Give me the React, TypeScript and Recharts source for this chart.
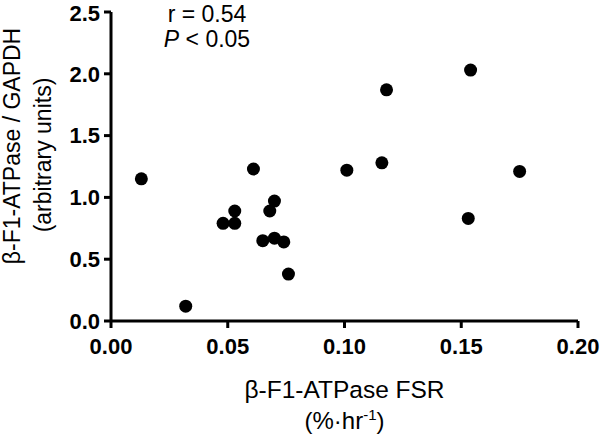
import React from 'react';
import { ScatterChart, Scatter, XAxis, YAxis } from 'recharts';

const fsrValues = [0.013, 0.032, 0.048, 0.053, 0.053, 0.061, 0.065, 0.068, 0.07, 0.07, 0.074, 0.076, 0.101, 0.116, 0.118, 0.153, 0.154, 0.175];
const ratioValues = [1.15, 0.12, 0.79, 0.79, 0.89, 1.23, 0.65, 0.89, 0.97, 0.67, 0.64, 0.38, 1.22, 1.28, 1.87, 0.83, 2.03, 1.21];
const xTicks = [0, 0.05, 0.1, 0.15, 0.2];
const yTicks = [0, 0.5, 1.0, 1.5, 2.0, 2.5];
const xTitle = 'β-F1-ATPase FSR';
const yTitle1 = 'β-F1-ATPase / GAPDH';
const yTitle2 = '(arbitrary units)';
const statR = 'r = 0.54';
const statP = '< 0.05';

const data = fsrValues.map((x, i) => ({ x, y: ratioValues[i] }));

const FONT = '"Liberation Sans", Arial, Helvetica, sans-serif';

const Dot = (props: any) => <circle cx={props.cx} cy={props.cy} r={6.5} fill="#000" />;

const XLabel = (props: any) => {
  const vb = props.viewBox || { x: 0, y: 0, width: 0 };
  const cx = vb.x + vb.width / 2;
  return (
    <g fontFamily={FONT} fill="#000">
      <text x={cx} y={vb.y + 77} textAnchor="middle" fontSize={24.5}>{xTitle}</text>
      <text x={cx} y={vb.y + 108} textAnchor="middle" fontSize={24}>
        (%·hr<tspan dy={-9} fontSize={15}>-1</tspan><tspan dy={9}>)</tspan>
      </text>
    </g>
  );
};

const YLabel = () => (
  <g fontFamily={FONT} fill="#000">
    <text x={20} y={146} transform="rotate(-90 20 146)" textAnchor="middle" fontSize={23}>{yTitle1}</text>
    <text x={51} y={155} transform="rotate(-90 51 155)" textAnchor="middle" fontSize={23}>{yTitle2}</text>
  </g>
);

export default function App() {
  return (
    <div style={{ position: 'relative', width: 600, height: 438 }}>
      <style>{`body{margin:0;}`}</style>
      <ScatterChart width={600} height={438} margin={{ top: 12, right: 22, left: 0, bottom: 77 }}>
        <XAxis
          type="number"
          dataKey="x"
          domain={[0, 0.2]}
          ticks={xTicks}
          tickFormatter={(v: number) => v.toFixed(2)}
          height={40}
          axisLine={{ stroke: '#000', strokeWidth: 3 }}
          tickLine={{ stroke: '#000', strokeWidth: 3 }}
          tickSize={7}
          tickMargin={10}
          tick={{ fill: '#000', fontSize: 22, fontWeight: 'bold', fontFamily: FONT }}
          allowDataOverflow
          label={{ content: (p: any) => <XLabel {...p} /> }}
        />
        <YAxis
          type="number"
          dataKey="y"
          domain={[0, 2.5]}
          ticks={yTicks}
          tickFormatter={(v: number) => v.toFixed(1)}
          width={111}
          axisLine={{ stroke: '#000', strokeWidth: 3 }}
          tickLine={{ stroke: '#000', strokeWidth: 3 }}
          tickSize={7}
          tickMargin={4}
          tick={{ fill: '#000', fontSize: 22, fontWeight: 'bold', fontFamily: FONT }}
          allowDataOverflow
          label={{ content: () => <YLabel /> }}
        />
        <Scatter data={data} fill="#000" shape={Dot} isAnimationActive={false} />
      </ScatterChart>
      <svg width={600} height={60} style={{ position: 'absolute', left: 0, top: 0, pointerEvents: 'none' }}>
        <g fontFamily={FONT} fill="#000" fontSize={23}>
          <text x={207} y={22} textAnchor="middle">{statR}</text>
          <text x={207} y={47} textAnchor="middle">
            <tspan fontStyle="italic">P</tspan> {statP}
          </text>
        </g>
      </svg>
    </div>
  );
}
